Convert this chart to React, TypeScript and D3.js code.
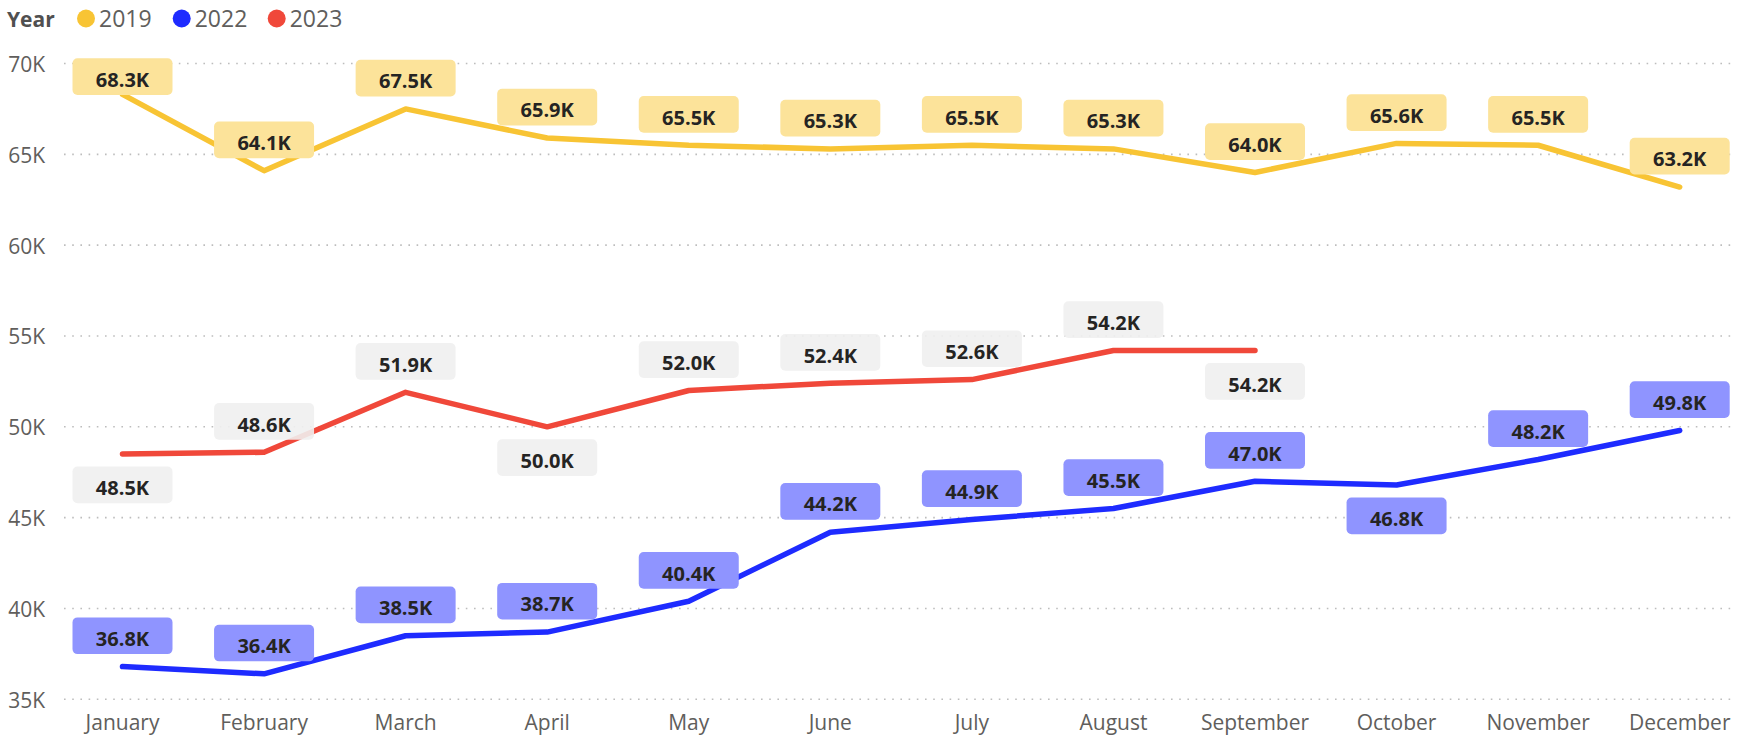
import React from "react";
import * as d3 from "d3";

const months = ["January", "February", "March", "April", "May", "June", "July", "August", "September", "October", "November", "December"];
const years = ["2019", "2022", "2023"];
const values2019 = [68300, 64100, 67500, 65900, 65500, 65300, 65500, 65300, 64000, 65600, 65500, 63200];
const values2022 = [36800, 36400, 38500, 38700, 40400, 44200, 44900, 45500, 47000, 46800, 48200, 49800];
const values2023 = [48500, 48600, 51900, 50000, 52000, 52400, 52600, 54200, 54200];
const yTicks = [35000, 40000, 45000, 50000, 55000, 60000, 65000, 70000];
// label placement (above / below the point) as seen in the reference
const place2019 = ["above", "above", "above", "above", "above", "above", "above", "above", "above", "above", "above", "above"];
const place2022 = ["above", "above", "above", "above", "above", "above", "above", "above", "above", "below", "above", "above"];
const place2023 = ["below", "above", "above", "below", "above", "above", "above", "above", "below"];

const W = 1739;
const H = 738;
const FONT = "'Segoe UI', 'Open Sans', 'Noto Sans', sans-serif";

const series = [
  { name: years[0], values: values2019, color: "#F8C434", bg: "#FCE39A", bgOpacity: 1, place: place2019 },
  { name: years[1], values: values2022, color: "#1E2BFF", bg: "#8F94FF", bgOpacity: 1, place: place2022 },
  { name: years[2], values: values2023, color: "#F0483A", bg: "#F0F0F0", bgOpacity: 0.9, place: place2023 },
];

const fmt = (v: number) => (v / 1000).toFixed(1) + "K";

export default function App() {
  const x = d3.scalePoint<string>().domain(months).range([122.5, 1679.7]);
  const y = d3.scaleLinear().domain([35000, 70000]).range([699.3, 63.5]);
  const line = d3
    .line<number>()
    .x((_, i) => x(months[i]) as number)
    .y((d) => y(d));

  const boxW = 100;
  const boxH = 36.7;
  const gap = 12.5;
  const topLimit = 58.3;

  return (
    <svg
      width={W}
      height={H}
      style={{ position: "absolute", left: 0, top: 0, background: "#fff" }}
      fontFamily={FONT}
    >
      {/* legend */}
      <text x={7} y={27} fontSize={21} fontWeight={700} fill="#505050">
        Year
      </text>
      {series.map((s, i) => {
        const cx = [86, 181.7, 276.7][i];
        return (
          <g key={s.name}>
            <circle cx={cx} cy={18.5} r={9} fill={s.color} />
            <text x={cx + 13} y={27} fontSize={23} fill="#605E5C">
              {s.name}
            </text>
          </g>
        );
      })}

      {/* grid + y axis */}
      {yTicks.map((t) => (
        <g key={t}>
          <line
            x1={64}
            x2={1736}
            y1={y(t)}
            y2={y(t)}
            stroke="#BDBDBD"
            strokeWidth={1.6}
            strokeDasharray="1.6,6.6"
          />
          <text x={45} y={y(t) + 8.5} textAnchor="end" fontSize={21} fill="#605E5C">
            {t / 1000 + "K"}
          </text>
        </g>
      ))}

      {/* x axis */}
      {months.map((m) => (
        <text key={m} x={x(m)} y={729.5} textAnchor="middle" fontSize={21} fill="#605E5C">
          {m}
        </text>
      ))}

      {/* lines */}
      {series.map((s) => (
        <path
          key={s.name}
          d={line(s.values) || ""}
          fill="none"
          stroke={s.color}
          strokeWidth={5.5}
          strokeLinejoin="round"
          strokeLinecap="round"
        />
      ))}

      {/* labels */}
      {series.map((s) =>
        s.values.map((v, i) => {
          const px = x(months[i]) as number;
          const py = y(v);
          let top = s.place[i] === "above" ? py - gap - boxH : py + gap;
          if (top < topLimit) top = topLimit;
          return (
            <g key={s.name + i}>
              <rect
                x={px - boxW / 2}
                y={top}
                width={boxW}
                height={boxH}
                rx={5}
                fill={s.bg}
                fillOpacity={s.bgOpacity}
              />
              <text
                x={px}
                y={top + 28.5}
                textAnchor="middle"
                fontSize={20}
                fontWeight={700}
                fill="#252423"
              >
                {fmt(v)}
              </text>
            </g>
          );
        })
      )}
    </svg>
  );
}
